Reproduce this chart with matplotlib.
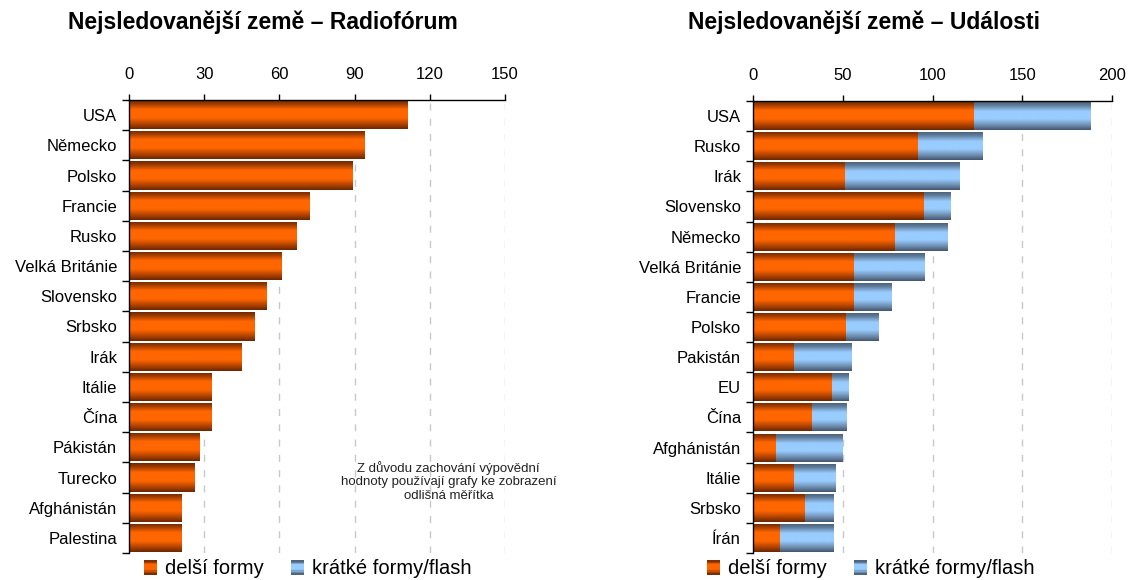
import numpy as np
import matplotlib
matplotlib.use('Agg')
import matplotlib.pyplot as plt
from matplotlib.colors import LinearSegmentedColormap
from matplotlib.patches import Rectangle
from matplotlib.legend_handler import HandlerBase

plt.rcParams['font.family'] = ['Liberation Sans', 'DejaVu Sans']

# ---------------- data ----------------
radio_countries = ["USA", "Německo", "Polsko", "Francie", "Rusko", "Velká Británie",
                   "Slovensko", "Srbsko", "Irák", "Itálie", "Čína", "Pákistán",
                   "Turecko", "Afghánistán", "Palestina"]
radio_values = [111, 94, 89, 72, 67, 61, 55, 50, 45, 33, 33, 28, 26, 21, 21]
radio_ticks = [0, 30, 60, 90, 120, 150]

events_countries = ["USA", "Rusko", "Irák", "Slovensko", "Německo", "Velká Británie",
                    "Francie", "Polsko", "Pakistán", "EU", "Čína", "Afghánistán",
                    "Itálie", "Srbsko", "Írán"]
events_long = [123, 92, 51, 95, 79, 56, 56, 52, 23, 44, 33, 13, 23, 29, 15]
events_short = [65, 36, 64, 15, 29, 39, 21, 18, 32, 9, 19, 37, 23, 16, 30]
events_ticks = [0, 50, 100, 150, 200]

series_labels = ["delší formy", "krátké formy/flash"]
titles = ["Nejsledovanější země – Radiofórum", "Nejsledovanější země – Události"]
note = "Z důvodu zachování výpovědní\nhodnoty používají grafy ke zobrazení\nodlišná měřítka"

# ---------------- styles ----------------
orange_cmap = LinearSegmentedColormap.from_list(
    "og", [(0.0, "#6e2800"), (0.12, "#9a3a00"), (0.32, "#ff6600"),
           (0.62, "#ff6600"), (0.85, "#a83f00"), (1.0, "#6a2600")])
blue_cmap = LinearSegmentedColormap.from_list(
    "bl", [(0.0, "#465a70"), (0.15, "#607d9c"), (0.35, "#99ccff"),
           (0.62, "#99ccff"), (0.85, "#6a88a8"), (1.0, "#435670")])
grad = np.linspace(0, 1, 128).reshape(-1, 1)


def fill_gradient(ax, bars, cmap):
    for b in bars:
        x0, y0 = b.get_x(), b.get_y()
        w, h = b.get_width(), b.get_height()
        im = ax.imshow(grad, extent=[x0, x0 + w, y0 + h, y0], aspect='auto',
                       cmap=cmap, origin='upper', zorder=2,
                       interpolation='bilinear')
        im.set_clip_path(b)
        b.set_facecolor('none')
        b.set_edgecolor('none')


class GradHandler(HandlerBase):
    def __init__(self, cmap, **kw):
        super().__init__(**kw)
        self.cmap = cmap

    def create_artists(self, legend, orig_handle, xdescent, ydescent,
                       width, height, fontsize, trans):
        n = 10
        side_w = height * 0.9
        side_h = height * 1.05
        x0 = -xdescent + (width - side_w) / 2
        y0 = -ydescent + (height - side_h) / 2
        arts = []
        for i in range(n):
            c = self.cmap(1 - (i + 0.5) / n)
            arts.append(Rectangle((x0, y0 + i * side_h / n), side_w, side_h / n,
                                  facecolor=c, edgecolor='none', transform=trans))
        return arts


def style_axes(ax, labels, ticks):
    n = len(labels)
    ax.set_xlim(ticks[0], ticks[-1])
    ax.set_ylim(n - 0.5, -0.5)
    ax.xaxis.tick_top()
    ax.set_xticks(ticks)
    ax.tick_params(axis='x', direction='out', length=4, pad=9, labelsize=12,
                   width=1, color='black')
    ax.set_yticks(np.arange(n))
    ax.set_yticklabels(labels)
    ax.set_yticks(np.arange(n + 1) - 0.5, minor=True)
    ax.tick_params(axis='y', which='major', length=0, pad=8.5, labelsize=12)
    ax.tick_params(axis='y', which='minor', length=5, direction='out', width=1)
    for s in ['bottom', 'right']:
        ax.spines[s].set_visible(False)
    for s in ['top', 'left']:
        ax.spines[s].set_color('black')
        ax.spines[s].set_linewidth(1)
    ax.grid(axis='x', linestyle=(0, (5, 6)), color='#c8c8c8', lw=1)
    ax.set_axisbelow(True)


fig = plt.figure(figsize=(11.3, 5.8), dpi=100)
ax1 = fig.add_axes([129 / 1130, 1 - 553 / 580, (505 - 129) / 1130, (553 - 100) / 580])
ax2 = fig.add_axes([753 / 1130, 1 - 553 / 580, (1112 - 753) / 1130, (553 - 101) / 580])

bar_h = 0.93
y1 = np.arange(len(radio_countries))
b1 = ax1.barh(y1, radio_values, height=bar_h, zorder=2)
fill_gradient(ax1, b1, orange_cmap)
style_axes(ax1, radio_countries, radio_ticks)
ax1.text(0.85, 0.158, note, transform=ax1.transAxes, ha='center', va='center',
         fontsize=9.5, color='#222222', linespacing=1.2)

y2 = np.arange(len(events_countries))
b2a = ax2.barh(y2, events_long, height=bar_h, zorder=2)
b2b = ax2.barh(y2, events_short, left=events_long, height=bar_h, zorder=2)
fill_gradient(ax2, b2a, orange_cmap)
fill_gradient(ax2, b2b, blue_cmap)
style_axes(ax2, events_countries, events_ticks)

fig.text(263 / 1130, 1 - 22 / 580, titles[0], ha='center', va='center',
         fontsize=16.5, fontweight='bold')
fig.text(864 / 1130, 1 - 22 / 580, titles[1], ha='center', va='center',
         fontsize=16.5, fontweight='bold')

for cx in (307 / 1130, 870 / 1130):
    h1 = Rectangle((0, 0), 1, 1)
    h2 = Rectangle((0, 0), 1, 1)
    fig.legend([h1, h2], series_labels, loc='center',
               bbox_to_anchor=(cx, 1 - 569 / 580), ncol=2, frameon=False,
               fontsize=14.5, handlelength=0.75, handletextpad=0.35,
               columnspacing=1.3, borderaxespad=0, borderpad=0,
               handler_map={h1: GradHandler(orange_cmap), h2: GradHandler(blue_cmap)})

fig.savefig("out.png", dpi=100)
